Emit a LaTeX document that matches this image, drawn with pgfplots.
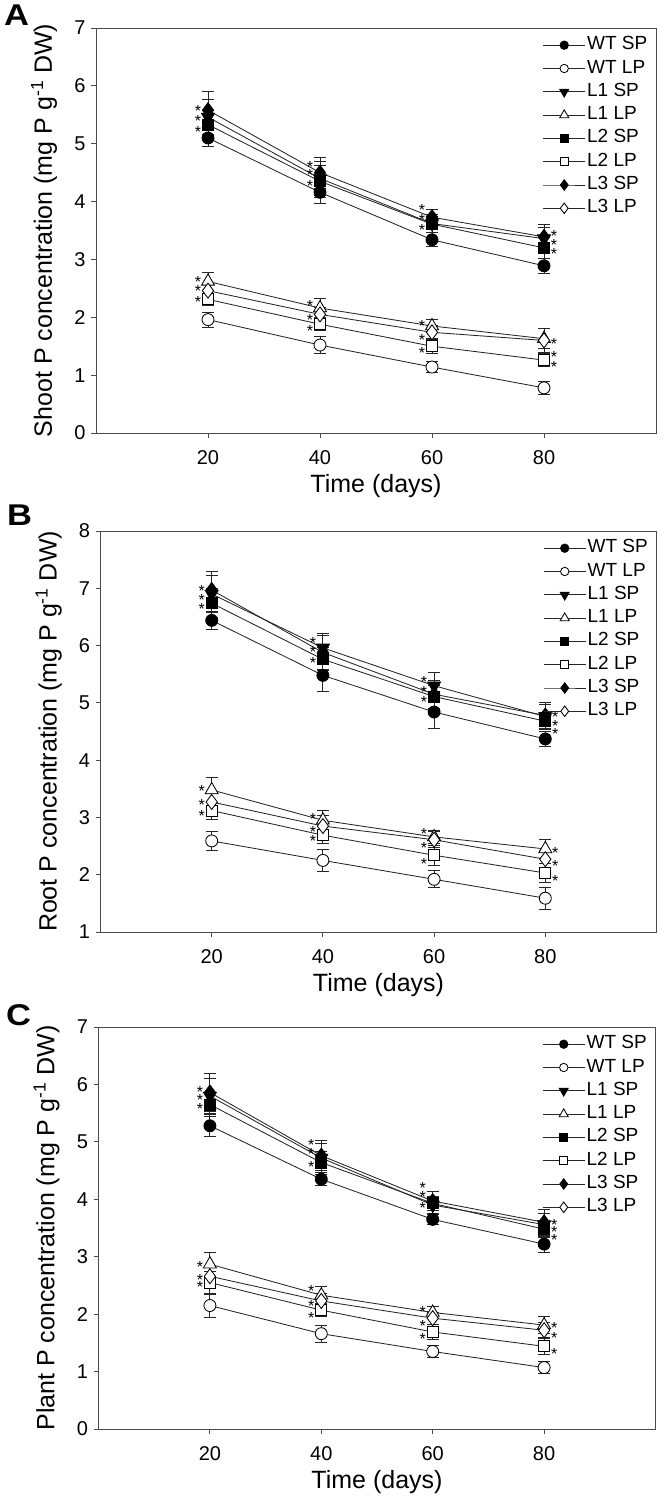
\documentclass[border=0pt]{standalone}
\usepackage{fontspec}
\setmainfont{Liberation Sans}
\usepackage{pgfplots}
\pgfplotsset{compat=1.18}
\newcommand\tickfont{\fontsize{20bp}{22bp}\selectfont}
\newcommand\legfont{\fontsize{19bp}{21bp}\selectfont}
\newcommand\labfont{\fontsize{25bp}{27bp}\selectfont}
\newcommand\astfont{\fontsize{16bp}{16bp}\selectfont}
\pgfplotsset{
  panel/.style={
    scale only axis, xmin=0, xmax=100, xtick={20,40,60,80},
    axis line style={black!70, line width=0.9pt},
    tick align=outside, tick pos=left, major tick length=5bp,
    tick style={black!70, line width=0.9pt},
    ticklabel style={font=\tickfont},
    /pgf/number format/assume math mode=true,
    xticklabel shift=9bp,
    yticklabel shift=2bp,
    xlabel={Time (days)},
    xlabel style={font=\labfont, at={(axis description cs:0.5,0)}, anchor=base, yshift=-59bp},
    ylabel style={font=\labfont, at={(axis description cs:0,0.5)}, anchor=base, yshift=44bp},
    legend style={at={(1,1)}, anchor=north east, xshift=-4bp, yshift=-5bp, draw=none, fill=none,
      font=\legfont, row sep=3.3bp, nodes={inner sep=1.5bp, text height=13bp, text depth=4bp}},
    legend cell align=left,
    legend image code/.code={\draw[mark repeat=2,mark phase=2,##1] plot coordinates {(0bp,0bp)(21bp,0bp)(42bp,0bp)};},
    legend image post style={every mark/.append style={scale=0.7}},
  },
  ser/.style={color=black!85, line width=0.85pt,
    error bars/y dir=both, error bars/y explicit,
    error bars/error bar style={line width=0.85pt, black!85, solid},
    error bars/error mark options={rotate=90, mark size=6bp, line width=0.85pt, black!85}},
  wtsp/.style={ser, mark=*, mark size=6bp, mark options={solid, draw=black, fill=black, line width=0.85pt}},
  wtlp/.style={ser, mark=*, mark size=6bp, mark options={solid, draw=black, fill=white, line width=0.85pt}},
  lasp/.style={ser, mark=triangle*, mark size=7.5bp, mark options={solid, rotate=180, draw=black, fill=black, line width=0.85pt}},
  lalp/.style={ser, mark=triangle*, mark size=7.5bp, mark options={solid, draw=black, fill=white, line width=0.85pt}},
  lbsp/.style={ser, mark=square*, mark size=5.5bp, mark options={solid, draw=black, fill=black, line width=0.85pt}},
  lblp/.style={ser, mark=square*, mark size=5.5bp, mark options={solid, draw=black, fill=white, line width=0.85pt}},
  lcsp/.style={ser, mark=diamond*, mark size=7.5bp, mark options={solid, draw=black, fill=black, line width=0.85pt}},
  lclp/.style={ser, mark=diamond*, mark size=7.5bp, mark options={solid, draw=black, fill=white, line width=0.85pt}},
  ast/.style={forget plot, draw=none, mark=none, nodes near coords={*}, nodes near coords align={center},
    every node near coord/.append style={font=\astfont, inner sep=0pt, yshift=-3.4bp, black}},
}
\begin{document}
\begin{tikzpicture}
\useasboundingbox (0,0) rectangle (664bp,-1505bp);
% ---------------- Panel A ----------------
\begin{axis}[panel, at={(96bp,-433bp)}, anchor=south west, width=560bp, height=405bp,
  ymin=0, ymax=7, ytick={0,1,...,7},
  ylabel={Shoot P concentration (mg P g\textsuperscript{-1} DW)}]
\addplot[wtsp] coordinates {(20,5.10) +- (0,0.15) (40,4.16) +- (0,0.19) (60,3.34) +- (0,0.12) (80,2.89) +- (0,0.13)};
\addlegendentry{WT SP}
\addplot[wtlp] coordinates {(20,1.96) +- (0,0.13) (40,1.52) +- (0,0.15) (60,1.14) +- (0,0.10) (80,0.78) +- (0,0.11)};
\addlegendentry{WT LP}
\addplot[lasp] coordinates {(20,5.46) +- (0,0.30) (40,4.40) +- (0,0.30) (60,3.62) +- (0,0.15) (80,3.36) +- (0,0.20)};
\addlegendentry{L1 SP}
\addplot[lalp] coordinates {(20,2.62) +- (0,0.15) (40,2.16) +- (0,0.17) (60,1.85) +- (0,0.12) (80,1.63) +- (0,0.17)};
\addlegendentry{L1 LP}
\addplot[lbsp] coordinates {(20,5.33) +- (0,0.25) (40,4.35) +- (0,0.28) (60,3.61) +- (0,0.14) (80,3.20) +- (0,0.18)};
\addlegendentry{L2 SP}
\addplot[lblp] coordinates {(20,2.31) +- (0,0.10) (40,1.88) +- (0,0.10) (60,1.50) +- (0,0.13) (80,1.26) +- (0,0.11)};
\addlegendentry{L2 LP}
\addplot[lcsp] coordinates {(20,5.58) +- (0,0.32) (40,4.50) +- (0,0.27) (60,3.73) +- (0,0.14) (80,3.39) +- (0,0.21)};
\addlegendentry{L3 SP}
\addplot[lclp] coordinates {(20,2.46) +- (0,0.12) (40,2.05) +- (0,0.12) (60,1.74) +- (0,0.12) (80,1.60) +- (0,0.21)};
\addlegendentry{L3 LP}
\addplot[ast] coordinates {(18.2,5.62) (18.2,5.46) (18.2,5.27) (38.2,4.66) (38.2,4.51) (38.2,4.33)
  (58.2,3.91) (58.2,3.74) (58.2,3.56) (81.8,3.47) (81.8,3.30) (81.8,3.16)
  (18.2,2.67) (18.2,2.51) (18.2,2.32) (38.2,2.25) (38.2,2.02) (38.2,1.83)
  (58.2,1.91) (58.2,1.67) (58.2,1.44) (81.8,1.59) (81.8,1.37) (81.8,1.20)};
\end{axis}
% ---------------- Panel B ----------------
\begin{axis}[panel, at={(100.5bp,-932bp)}, anchor=south west, width=556bp, height=401bp,
  ymin=1, ymax=8, ytick={1,2,...,8},
  ylabel={Root P concentration (mg P g\textsuperscript{-1} DW)}]
\addplot[wtsp] coordinates {(20,6.44) +- (0,0.16) (40,5.48) +- (0,0.28) (60,4.84) +- (0,0.28) (80,4.37) +- (0,0.13)};
\addlegendentry{WT SP}
\addplot[wtlp] coordinates {(20,2.59) +- (0,0.16) (40,2.25) +- (0,0.20) (60,1.92) +- (0,0.15) (80,1.59) +- (0,0.19)};
\addlegendentry{WT LP}
\addplot[lasp] coordinates {(20,6.90) +- (0,0.32) (40,5.96) +- (0,0.25) (60,5.30) +- (0,0.24) (80,4.76) +- (0,0.22)};
\addlegendentry{L1 SP}
\addplot[lalp] coordinates {(20,3.48) +- (0,0.21) (40,2.95) +- (0,0.17) (60,2.66) +- (0,0.11) (80,2.45) +- (0,0.17)};
\addlegendentry{L1 LP}
\addplot[lbsp] coordinates {(20,6.74) +- (0,0.25) (40,5.76) +- (0,0.20) (60,5.11) +- (0,0.20) (80,4.68) +- (0,0.15)};
\addlegendentry{L2 SP}
\addplot[lblp] coordinates {(20,3.12) +- (0,0.15) (40,2.69) +- (0,0.15) (60,2.34) +- (0,0.17) (80,2.03) +- (0,0.17)};
\addlegendentry{L2 LP}
\addplot[lcsp] coordinates {(20,6.97) +- (0,0.33) (40,5.88) +- (0,0.30) (60,5.15) +- (0,0.25) (80,4.78) +- (0,0.22)};
\addlegendentry{L3 SP}
\addplot[lclp] coordinates {(20,3.27) +- (0,0.15) (40,2.85) +- (0,0.18) (60,2.61) +- (0,0.14) (80,2.27) +- (0,0.15)};
\addlegendentry{L3 LP}
\addplot[ast] coordinates {(18.2,7.01) (18.2,6.86) (18.2,6.69) (38.2,6.10) (38.2,5.94) (38.2,5.76)
  (58.2,5.43) (58.2,5.25) (58.2,5.07) (81.8,4.81) (81.8,4.66) (81.8,4.51)
  (18.2,3.52) (18.2,3.27) (18.2,3.09) (38.2,3.04) (38.2,2.81) (38.2,2.64)
  (58.2,2.77) (58.2,2.53) (58.2,2.25) (81.8,2.44) (81.8,2.22) (81.8,1.95)};
\end{axis}
% ---------------- Panel C ----------------
\begin{axis}[panel, at={(98.5bp,-1429bp)}, anchor=south west, width=557bp, height=402bp,
  ymin=0, ymax=7, ytick={0,1,...,7},
  ylabel={Plant P concentration (mg P g\textsuperscript{-1} DW)}]
\addplot[wtsp] coordinates {(20,5.28) +- (0,0.19) (40,4.35) +- (0,0.11) (60,3.65) +- (0,0.09) (80,3.22) +- (0,0.15)};
\addlegendentry{WT SP}
\addplot[wtlp] coordinates {(20,2.15) +- (0,0.20) (40,1.66) +- (0,0.15) (60,1.35) +- (0,0.10) (80,1.07) +- (0,0.11)};
\addlegendentry{WT LP}
\addplot[lasp] coordinates {(20,5.80) +- (0,0.30) (40,4.72) +- (0,0.26) (60,3.90) +- (0,0.15) (80,3.56) +- (0,0.20)};
\addlegendentry{L1 SP}
\addplot[lalp] coordinates {(20,2.87) +- (0,0.21) (40,2.33) +- (0,0.16) (60,2.03) +- (0,0.11) (80,1.81) +- (0,0.15)};
\addlegendentry{L1 LP}
\addplot[lbsp] coordinates {(20,5.65) +- (0,0.20) (40,4.64) +- (0,0.20) (60,3.93) +- (0,0.12) (80,3.48) +- (0,0.15)};
\addlegendentry{L2 SP}
\addplot[lblp] coordinates {(20,2.55) +- (0,0.19) (40,2.07) +- (0,0.11) (60,1.69) +- (0,0.13) (80,1.44) +- (0,0.14)};
\addlegendentry{L2 LP}
\addplot[lcsp] coordinates {(20,5.86) +- (0,0.33) (40,4.76) +- (0,0.26) (60,3.97) +- (0,0.16) (80,3.60) +- (0,0.22)};
\addlegendentry{L3 SP}
\addplot[lclp] coordinates {(20,2.66) +- (0,0.16) (40,2.23) +- (0,0.13) (60,1.93) +- (0,0.10) (80,1.72) +- (0,0.13)};
\addlegendentry{L3 LP}
\addplot[ast] coordinates {(18.2,5.92) (18.2,5.79) (18.2,5.63) (38.2,5.01) (38.2,4.84) (38.2,4.63)
  (58.2,4.26) (58.2,4.10) (58.2,3.91) (81.8,3.62) (81.8,3.49) (81.8,3.35)
  (18.2,2.88) (18.2,2.66) (18.2,2.53) (38.2,2.46) (38.2,2.20) (38.2,1.99)
  (58.2,2.10) (58.2,1.85) (58.2,1.63) (81.8,1.81) (81.8,1.65) (81.8,1.37)};
\end{axis}
% panel letters
\node[anchor=base west, inner sep=0pt, xscale=1.15, font=\fontsize{30bp}{30bp}\selectfont\bfseries] at (4bp,-25bp) {A};
\node[anchor=base west, inner sep=0pt, xscale=1.15, font=\fontsize{30bp}{30bp}\selectfont\bfseries] at (7bp,-525bp) {B};
\node[anchor=base west, inner sep=0pt, xscale=1.15, font=\fontsize{30bp}{30bp}\selectfont\bfseries] at (6bp,-1025bp) {C};
\end{tikzpicture}
\end{document}
